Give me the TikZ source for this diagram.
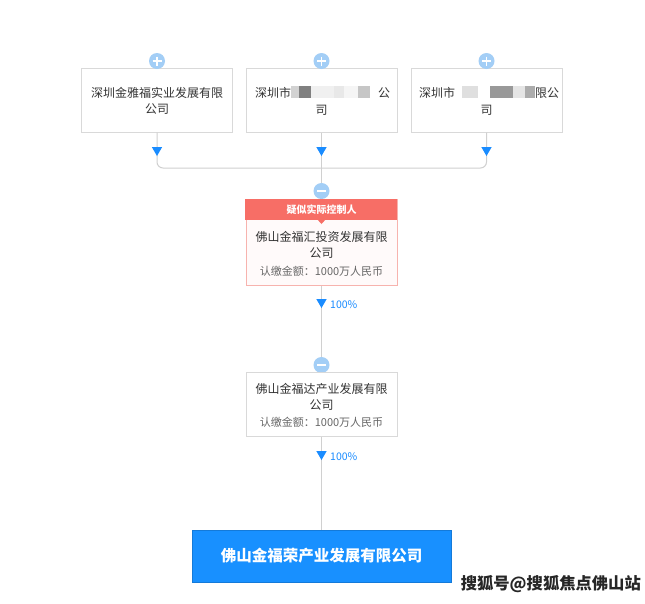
\documentclass[tikz,border=0pt]{standalone}
\usepackage{fontspec}
\setmainfont{Noto Sans CJK SC}
\usetikzlibrary{shapes.geometric}
\definecolor{bordergray}{HTML}{D9D9D9}
\definecolor{txt}{HTML}{333333}
\definecolor{subtxt}{HTML}{666666}
\definecolor{iconblue}{HTML}{A3CEF6}
\definecolor{arrowblue}{HTML}{1A8CFF}
\definecolor{mainblue}{HTML}{1890FF}
\definecolor{redhead}{HTML}{F76E66}
\definecolor{redborder}{HTML}{F7B3AE}
\definecolor{pinkfill}{HTML}{FFFAFA}
\definecolor{linegray}{HTML}{D0D0D0}
\tikzset{
  box/.style={draw=bordergray, line width=1pt, fill=white, minimum width=151pt, minimum height=64pt, inner sep=0pt},
  redbox/.style={draw=redborder, line width=1pt, fill=pinkfill, minimum width=151pt, minimum height=86pt, inner sep=0pt},
  mainbox/.style={fill=mainblue, draw=mainblue!85!black, line width=0.6pt, minimum width=259pt, minimum height=52pt, inner sep=0pt},
  lbl/.style={text=txt, font=\fontsize{12pt}{16.5pt}\selectfont, align=center, inner sep=0pt},
  sub/.style={text=subtxt, font=\fontsize{11pt}{14pt}\selectfont, inner sep=0pt},
  conn/.style={draw=linegray, line width=1pt},
  icon/.style={circle, fill=iconblue, minimum size=16pt, inner sep=0pt},
  tri/.style={fill=arrowblue, draw=none, isosceles triangle, isosceles triangle apex angle=60, shape border rotate=-90, minimum height=9pt, minimum width=1pt, inner sep=0pt},
  pct/.style={text=arrowblue, font=\fontsize{10.5pt}{12pt}\selectfont, inner sep=0pt, anchor=west},
}
\begin{document}
\begin{tikzpicture}[x=1pt,y=-1pt]
\useasboundingbox[fill=white] (0,0) rectangle (645,603);

% top boxes
\node[box] (b1) at (157,100) {};
\node[box] (b2) at (321.5,100) {};
\node[box] (b3) at (486.5,100) {};

\node[lbl] (t1) at (157,101) {深圳金雅福实业发展有限\\公司};

\node[lbl, anchor=west] (t2a) at (255,93) {深圳市};
\fill[gray!35] (291,86) rectangle (299,98);
\fill[gray!100] (299,86) rectangle (311,98);
\fill[gray!12] (311,86) rectangle (334,98);
\fill[gray!18] (334,86) rectangle (344,98);
\fill[gray!8] (344,86) rectangle (358,98);
\fill[gray!45] (358,86) rectangle (370,98);
\node[lbl, anchor=west] (t2b) at (378,93) {公};
\node[lbl] (t2c) at (321.5,110) {司};

\node[lbl, anchor=west] (t3a) at (419,93) {深圳市};
\fill[gray!25] (462,86) rectangle (478,98);
\fill[gray!80] (490,86) rectangle (513,98);
\fill[gray!20] (513,86) rectangle (525,98);
\fill[gray!65] (525,86) rectangle (535,98);
\node[lbl, anchor=west] (t3b) at (535,93) {限公};
\node[lbl] (t3c) at (486.5,110) {司};

% icons (plus)
\foreach \n/\x in {p1/157, p2/321.5, p3/486.5}{
  \node[icon] (\n) at (\x,61) {};
  \draw[white, line width=1.8pt] (\x-4.5,61) -- (\x+4.5,61) (\x,56.5) -- (\x,65.5);
}

% connectors from top boxes
\coordinate (j) at (321.5,168);
\node[icon] (m1) at (321.5,191) {};
\draw[white, line width=1.8pt] (317,191) -- (326,191);
\draw[conn, rounded corners=6pt] (b1.south) |- (j) -| (b3.south);
\draw[conn] (b2.south) -- (m1.north);
\node[tri] (a1) at (157,150) {};
\node[tri] (a2) at (321.5,150) {};
\node[tri] (a3) at (486.5,150) {};

% red box
\node[redbox] (r) at (321.5,242) {};
\fill[redhead] (r.north west) ++(-0.5,0) rectangle ++(152,21);
\fill[redhead] (317,219) -- (326,219) -- (321.5,224) -- cycle;
\node[text=white, font=\fontsize{10pt}{12pt}\selectfont\bfseries, inner sep=0pt] (rh) at (321.5,210) {疑似实际控制人};
\node[lbl] (rt) at (321.5,245) {佛山金福汇投资发展有限\\公司};
\node[sub] (rs) at (321.5,271) {认缴金额：1000万人民币};

% second minus and box
\node[icon] (m2) at (321.5,365) {};
\draw[white, line width=1.8pt] (317,365) -- (326,365);
\draw[conn] (r.south) -- (m2.north);
\node[tri] (a4) at (321.5,302) {};
\node[pct] (p100a) at (330,305) {100\%};

\node[box] (mid) at (321.5,404.5) {};
\node[lbl] (mt) at (321.5,397) {佛山金福达产业发展有限\\公司};
\node[sub] (ms) at (321.5,422) {认缴金额：1000万人民币};

% main box
\node[mainbox] (main) at (321.5,556) {};
\node[text=white, font=\fontsize{15.5pt}{18pt}\selectfont\bfseries, inner sep=0pt] (mainT) at (321.5,556) {佛山金福荣产业发展有限公司};
\draw[conn] (mid.south) -- (main.north);
\node[tri] (a5) at (321.5,454) {};
\node[pct] (p100b) at (330,457) {100\%};

% watermark text
\node[font=\fontsize{16.3pt}{18pt}\selectfont\bfseries, text=black!85, inner sep=0pt, anchor=east] (wm) at (641,584) {搜狐号@搜狐焦点佛山站};
\end{tikzpicture}
\end{document}
